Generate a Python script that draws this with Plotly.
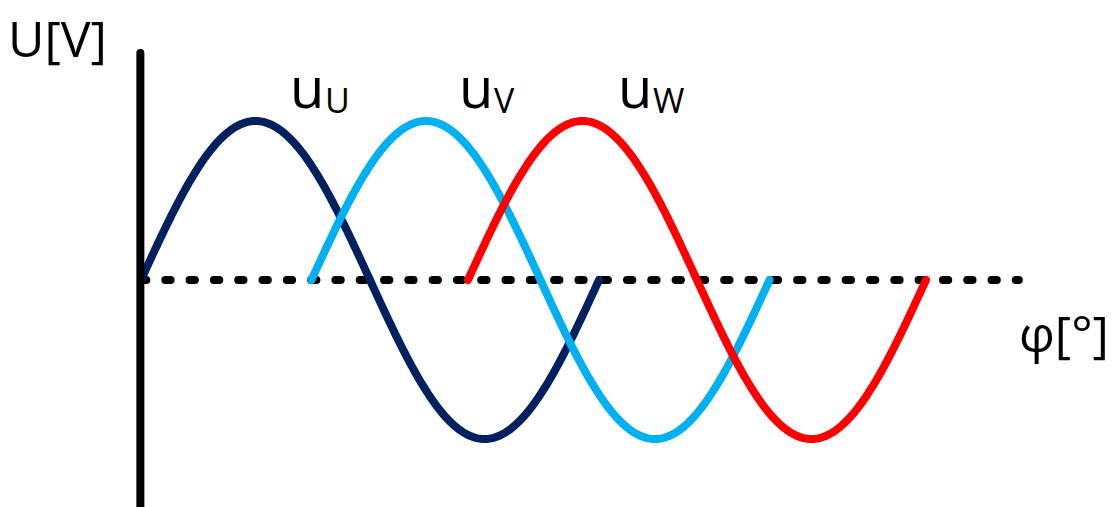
import numpy as np
import plotly.graph_objects as go

# Data (degrees)
phase_names = ["U", "V", "W"]
phase_start_deg = [0, 134, 257]        # start angle of each drawn period
period_deg = [360, 360, 360]
amplitude = [1.0, 1.0, 1.0]
phase_colors = ["#002060", "#00B0F0", "#FF0000"]
baseline_end_deg = 690

W, H = 1112, 507
X0_PX, PX_PER_DEG = 141, 458 / 360
Y0_PX, PX_PER_UNIT = 280, 159

fig = go.Figure()

# dashed zero line (round caps added via CSS)
fig.add_trace(go.Scatter(x=[0, baseline_end_deg], y=[0, 0], mode="lines",
                         line=dict(color="black", width=8, dash="5.3px,19px"),
                         hoverinfo="skip", showlegend=False))

for name, s, p, a, c in zip(phase_names, phase_start_deg, period_deg, amplitude, phase_colors):
    t = np.linspace(0, p, 361)
    fig.add_trace(go.Scatter(x=s + t, y=a * np.sin(np.deg2rad(t)), mode="lines",
                             line=dict(color=c, width=8, simplify=False), name="u" + name,
                             showlegend=False))

# vertical axis
y_top = (Y0_PX - 53) / PX_PER_UNIT
y_bot = -(H - Y0_PX + 10) / PX_PER_UNIT
fig.add_trace(go.Scatter(x=[-0.5, -0.5], y=[y_top, y_bot], mode="lines",
                         line=dict(color="black", width=8), hoverinfo="skip", showlegend=False))

x_lo = -X0_PX / PX_PER_DEG
x_hi = (W - X0_PX) / PX_PER_DEG
y_hi = Y0_PX / PX_PER_UNIT
y_lo = -(H - Y0_PX) / PX_PER_UNIT

font = "Open Sans, Noto Sans, sans-serif"

def px(x, y):
    return x / W, 1 - y / H

anns = []
def add_text(text, x, y, size, xanchor="left", yanchor="middle"):
    ax, ay = px(x, y)
    anns.append(dict(text=text, x=ax, y=ay, xref="paper", yref="paper",
                     xanchor=xanchor, yanchor=yanchor, showarrow=False,
                     font=dict(family=font, size=size, color="black")))

add_text("U[V]", 6, 38, 50)
add_text("φ[°]", 1111, 333, 50, xanchor="right")
label_main_x = [288, 457, 616]
label_sub_x = [323, 492, 651]
for n, mx, sx in zip(phase_names, label_main_x, label_sub_x):
    add_text("u", mx, 86, 56)
    add_text(n, sx, 100, 34)

fig.update_layout(
    width=W, height=H, margin=dict(l=0, r=0, t=0, b=0),
    paper_bgcolor="white", plot_bgcolor="white",
    xaxis=dict(range=[x_lo, x_hi], visible=False, fixedrange=True),
    yaxis=dict(range=[y_lo, y_hi], visible=False, fixedrange=True),
    annotations=anns,
)
post = """
document.body.style.margin='0';
document.body.style.padding='0';
var st = document.createElement('style');
st.textContent = '.scatterlayer path.js-line{stroke-linecap:round !important;stroke-linejoin:round !important;}';
document.head.appendChild(st);
"""
fig.write_html("out.html", post_script=post, config={"displayModeBar": False})
